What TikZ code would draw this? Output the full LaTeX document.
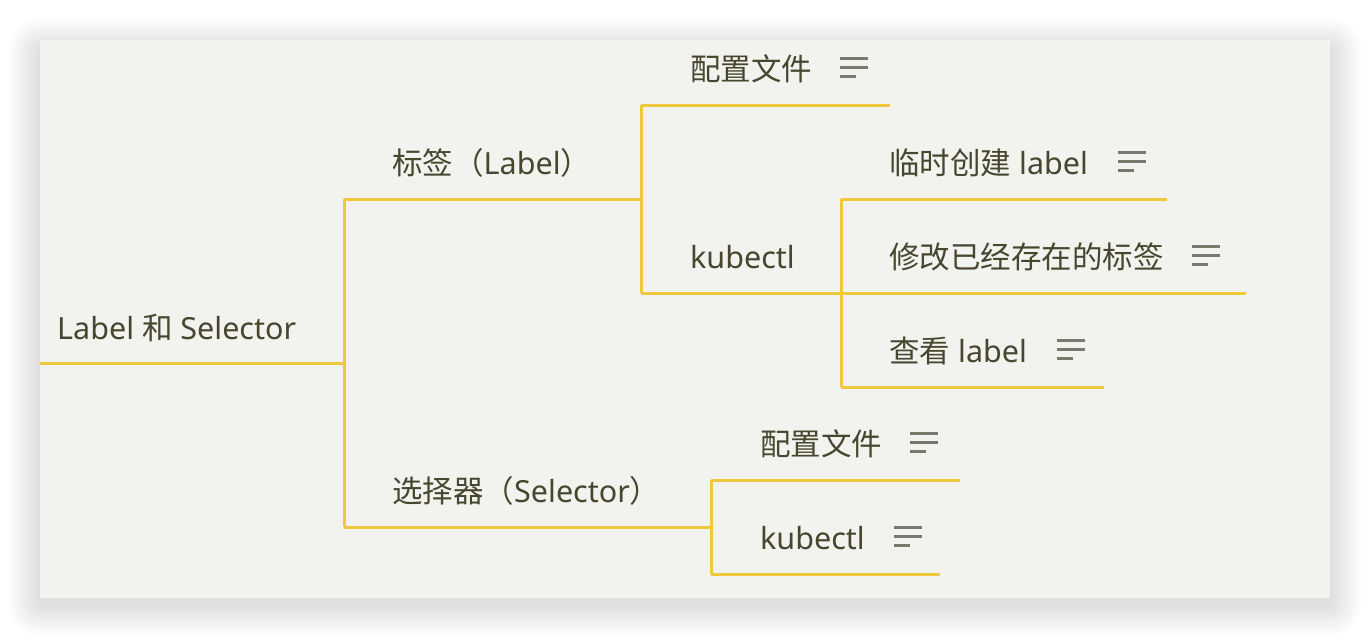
\documentclass[tikz,border=0pt]{standalone}
\usepackage{fontspec}
\setmainfont{Noto Sans}
\newfontfamily\cjk{Noto Sans CJK SC}
\definecolor{cardbg}{HTML}{F2F2EE}
\definecolor{gold}{HTML}{F0C83C}
\definecolor{ink}{HTML}{47462F}
\definecolor{iconcol}{HTML}{7A796E}
\tikzset{
  txt/.style={anchor=base west, inner sep=0pt, text=ink, font=\fontsize{30.5}{36}\selectfont},
  branch/.style={draw=gold, line width=3pt},
  menuicon/.pic={\draw[iconcol, line width=3pt] (0,-9)--(28,-9) (0,0)--(28,0) (0,9)--(16,9);}
}
\begin{document}
\begin{tikzpicture}[x=1pt,y=-1pt]
\useasboundingbox (0,0) rectangle (1370,638);
\fill[white] (0,0) rectangle (1370,638);
% shadow
\foreach \i in {1,...,32}{
  \fill[black,opacity=0.0045,rounded corners=\i pt] (40-\i,50-\i) rectangle (1330+\i,604+\i);
}
\fill[cardbg] (40,40) rectangle (1330,598);

% nodes
\node[txt] (root) at (57,339) {Label {\cjk 和} Selector};
\node[txt] (lab) at (392,174) {{\cjk 标签（}Label{\cjk ）}};
\node[txt] (cfg1) at (690,80) {{\cjk 配置文件}};
\node[txt] (kub1) at (690,268) {kubectl};
\node[txt] (tmp) at (889,174) {{\cjk 临时创建} label};
\node[txt] (mod) at (889,268) {{\cjk 修改已经存在的标签}};
\node[txt] (view) at (889,362) {{\cjk 查看} label};
\node[txt] (sel) at (392,502) {{\cjk 选择器（}Selector{\cjk ）}};
\node[txt] (cfg2) at (760,455) {{\cjk 配置文件}};
\node[txt] (kub2) at (760,549) {kubectl};

% icons
\pic at ([xshift=28pt,yshift=13pt]cfg1.base east) {menuicon};
\pic at ([xshift=30pt,yshift=13pt]tmp.base east) {menuicon};
\pic at ([xshift=28pt,yshift=13pt]mod.base east) {menuicon};
\pic at ([xshift=30pt,yshift=13pt]view.base east) {menuicon};
\pic at ([xshift=28pt,yshift=13pt]cfg2.base east) {menuicon};
\pic at ([xshift=29pt,yshift=13pt]kub2.base east) {menuicon};

% underline coordinates
\coordinate (rootL) at (40,363);   \coordinate (rootR) at (344,363);
\coordinate (labL) at (344,199);   \coordinate (labR) at (641,199);
\coordinate (selL) at (344,527);   \coordinate (selR) at (711,527);
\coordinate (cfg1L) at (641,105);  \coordinate (cfg1R) at (890,105);
\coordinate (kub1L) at (641,293);  \coordinate (kub1R) at (841,293);
\coordinate (tmpL) at (841,199);   \coordinate (tmpR) at (1167,199);
\coordinate (modL) at (841,293);   \coordinate (modR) at (1246,293);
\coordinate (viewL) at (841,387);  \coordinate (viewR) at (1104,387);
\coordinate (cfg2L) at (711,480);  \coordinate (cfg2R) at (960,480);
\coordinate (kub2L) at (711,574);  \coordinate (kub2R) at (940,574);

% connectors
\draw[branch] (rootL) -- (rootR);
\draw[branch] (labL) -- (selL);
\draw[branch] (labL) -- (labR);
\draw[branch] (selL) -- (selR);
\draw[branch] (cfg1L) -- (kub1L);
\draw[branch] (cfg1L) -- (cfg1R);
\draw[branch] (kub1L) -- (kub1R);
\draw[branch] (tmpL) -- (viewL);
\draw[branch] (tmpL) -- (tmpR);
\draw[branch] (modL) -- (modR);
\draw[branch] (viewL) -- (viewR);
\draw[branch] (cfg2L) -- (kub2L);
\draw[branch] (cfg2L) -- (cfg2R);
\draw[branch] (kub2L) -- (kub2R);
\end{tikzpicture}
\end{document}
